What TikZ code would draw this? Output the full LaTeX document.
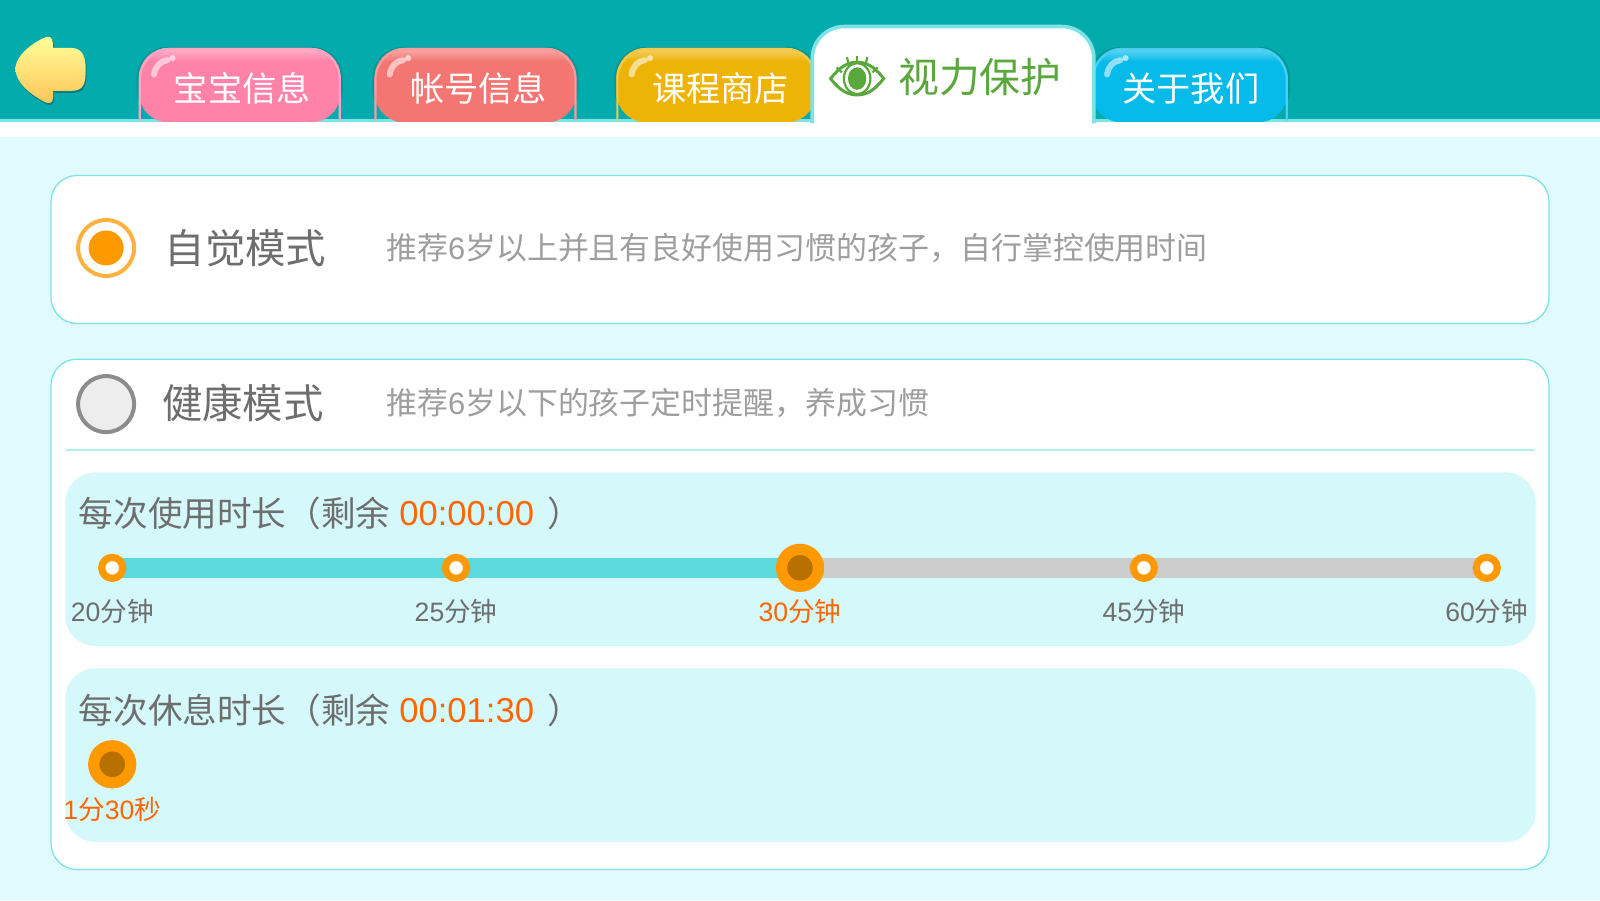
\documentclass[tikz,border=0pt]{standalone}
\usepackage{fontspec}
\setmainfont{Noto Sans CJK SC}
\newfontfamily\digitfont{Liberation Sans}
\usetikzlibrary{positioning, calc}

\definecolor{topteal}{HTML}{04ABAC}
\definecolor{edgeteal}{HTML}{7FE3E6}
\definecolor{pagebg}{HTML}{E0FAFD}
\definecolor{rowbg}{HTML}{D5F8FB}
\definecolor{trackon}{HTML}{5CD9DC}
\definecolor{trackoff}{HTML}{CCCCCC}
\definecolor{knob}{HTML}{FF9900}
\definecolor{knobdark}{HTML}{B87000}
\definecolor{hottext}{HTML}{FF6600}
\definecolor{softtext}{HTML}{6E6E6E}
\definecolor{eyegreen}{HTML}{5AA83C}
\definecolor{arrowtop}{HTML}{FFFF99}
\definecolor{arrowlow}{HTML}{FFC459}

\tikzset{
    panelbox/.style={draw=edgeteal, line width=0.65pt, fill=white, rounded corners=13pt},
    rowbox/.style={fill=rowbg, rounded corners=15pt},
    tabtext/.style={text=white, inner sep=0pt, font=\fontsize{17.1}{20}\selectfont},
    modetext/.style={text=softtext, anchor=west, inner sep=0pt, font=\fontsize{20.2}{24}\selectfont},
    hinttext/.style={text=black!38, anchor=west, inner sep=0pt, font=\fontsize{15.47}{18}\selectfont},
    rowtext/.style={text=softtext, anchor=west, inner sep=0pt, font=\fontsize{17.3}{21}\selectfont},
    stoptext/.style={text=softtext, inner sep=0pt, font=\fontsize{13.3}{16}\selectfont},
    stopdot/.style={circle, draw=knob, fill=white, line width=3.6pt, inner sep=0pt, minimum size=10.5pt},
    bigdot/.style={circle, draw=knob, fill=knobdark, line width=5.6pt, inner sep=0pt, minimum size=18.5pt},
    radiodot/.style={circle, line width=2pt, inner sep=0pt, minimum size=28pt}
}

\begin{document}
\begin{tikzpicture}[x=0.5102pt, y=-0.5102pt]
\useasboundingbox (0,0) rectangle (1568,882);
\fill[pagebg] (0,0) rectangle (1568,882);

% Top bar
\fill[white] (0,120) rectangle (1568,134);
\fill[topteal] (0,0) rectangle (1568,117);
\fill[edgeteal] (0,117) rectangle (1568,120);

% Back arrow
\path[fill=black!25!topteal]
    (16,68) .. controls (18,54) and (36,42) .. (47,38) .. controls (52,37) and (53,42) .. (53,49) -- (71,49)
    .. controls (83,49) and (85,60) .. (85,70) .. controls (85,84) and (83,91) .. (71,91) -- (53,91) -- (53,98)
    .. controls (53,104) and (48,104) .. (43,101) .. controls (31,94) and (16,84) .. (16,68) -- cycle;
\path[top color=arrowtop, bottom color=arrowlow]
    (15,66) .. controls (17,52) and (35,40) .. (46,36) .. controls (51,35) and (52,40) .. (52,47) -- (70,47)
    .. controls (82,47) and (84,58) .. (84,68) .. controls (84,82) and (82,89) .. (70,89) -- (52,89) -- (52,96)
    .. controls (52,102) and (47,102) .. (42,99) .. controls (30,92) and (15,82) .. (15,66) -- cycle;

% Tabs
\foreach \name/\x/\w/\tx/\col/\lab in {baby/136/198/237.5/FF82A9/宝宝信息, account/367/198/469/F47672/帐号信息,
    shop/604/196/706/EDB407/课程商店, about/1070/192/1167/06BBEA/关于我们} {
    \definecolor{tabcol}{HTML}{\col}
    \fill[black!30!topteal, opacity=0.35, rounded corners=15pt] (\x-2,117) -- (\x-2,46) -- (\x+\w+2,46) -- (\x+\w+2,117) -- cycle;
    \begin{scope}
        \clip[rounded corners=15pt] (\x,120) -- (\x,47) -- (\x+\w,47) -- (\x+\w,120) -- cycle;
        \fill[tabcol] (\x,47) rectangle (\x+\w,120);
        \path[top color=tabcol!60!white, bottom color=tabcol] (\x,47) rectangle (\x+\w,60);
    \end{scope}
    \draw[tabcol!72!white, line width=1.1pt, rounded corners=15pt]
        (\x+1,118) -- (\x+1,48) -- (\x+\w-1,48) -- (\x+\w-1,118);
    \draw[white, opacity=0.55, line width=3pt, line cap=round] (\x+15,73) .. controls (\x+16,65) and (\x+21,60) .. (\x+28,59);
    \fill[white, opacity=0.6] (\x+33,57) circle (3);
    \node[tabtext] (tab\name) at (\tx,87) {\lab};
}

% Active tab
\draw[edgeteal, line width=1.8pt, fill=white, rounded corners=16pt]
    (796,121) -- (796,26) -- (1072,26) -- (1072,121);
\fill[white] (797.5,116) rectangle (1070.5,125);
\draw[eyegreen, line width=1.5pt] (814,77) .. controls (824,64) and (832,61) .. (840,61) .. controls (848,61) and (856,64) .. (866,77)
    .. controls (856,90) and (848,93) .. (840,93) .. controls (832,93) and (824,90) .. (814,77) -- cycle;
\draw[eyegreen, line width=1.1pt] (840,77) ellipse (13 and 15);
\fill[eyegreen] (840,77) ellipse (9 and 11);
\foreach \a/\b/\c/\d in {820/66/825/71, 830/56/832/64, 840/55/840/62, 850/56/848/64, 860/66/855/71} {
    \draw[eyegreen, line width=1.1pt] (\a,\b) -- (\c,\d);
}
\node[text=eyegreen, anchor=west, inner sep=0pt, font=\fontsize{20.4}{24}\selectfont] (tabeye) at (880,76) {视力保护};

% Self-control panel
\draw[panelbox] (50,172) rectangle (1518,317);
\node[radiodot, draw=knob!75!white, fill=white] (radioself) at (104,243) {};
\node[circle, fill=knob, inner sep=0pt, minimum size=17.5pt] (radioselfin) at (radioself) {};
\node[modetext] (modeself) at (161,243) {自觉模式};
\node[hinttext] (hintself) at (378,243) {推荐{\digitfont 6}岁以上并且有良好使用习惯的孩子，自行掌控使用时间};

% Health panel
\draw[panelbox] (50,352) rectangle (1518,852);
\node[radiodot, draw=black!45, fill=black!7] (radiohealth) at (104,396) {};
\node[modetext] (modehealth) at (158.5,395) {健康模式};
\node[hinttext] (hinthealth) at (378,395) {推荐{\digitfont 6}岁以下的孩子定时提醒，养成习惯};
\draw[edgeteal!60!white, line width=0.8pt] (65,441) -- (1503,441);

% Usage row
\fill[rowbox] (64,463) rectangle (1505,633);
\node[rowtext] (usetitle) at (77,503.5) {每次使用时长（剩余};
\node[rowtext, text=hottext] (usetime) at (391,503.5) {\digitfont 00:00:00};
\node[rowtext] (useend) at (536,503.5) {）};

\foreach \name/\x in {a/110, b/447, c/784, d/1121, e/1457} {
    \coordinate (track\name) at (\x,556.5);
}
\draw[trackon, line width=10.2pt] (tracka) -- (trackc);
\draw[trackoff, line width=10.2pt] (trackc) -- (tracke);
\foreach \name/\lab in {a/20, b/25, d/45, e/60} {
    \node[stopdot] (stop\name) at (track\name) {};
    \node[stoptext, below=35pt of track\name, anchor=center, yshift=13.4pt] (label\name) {{\digitfont\lab}分钟};
}
\node[bigdot] (stopc) at (trackc) {};
\node[stoptext, text=hottext, below=35pt of trackc, anchor=center, yshift=13.4pt] (labelc) {{\digitfont 30}分钟};

% Rest row
\fill[rowbox] (64,655) rectangle (1505,825);
\node[rowtext] (resttitle) at (77,696.5) {每次休息时长（剩余};
\node[rowtext, text=hottext] (resttime) at (391,696.5) {\digitfont 00:01:30};
\node[rowtext] (restend) at (536,696.5) {）};
\node[bigdot] (restknob) at (110,749) {};
\node[stoptext, text=hottext] (restlabel) at (110,793) {{\digitfont 1}分{\digitfont 30}秒};
\end{tikzpicture}
\end{document}
